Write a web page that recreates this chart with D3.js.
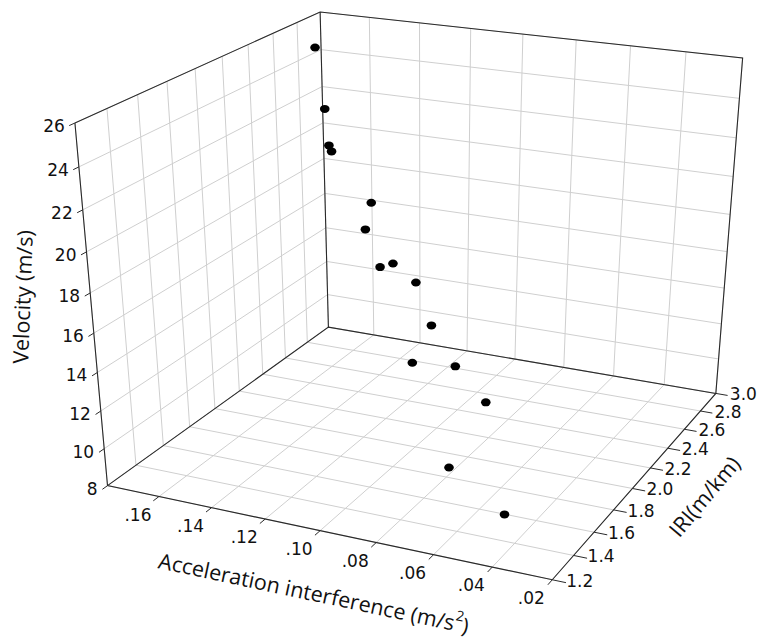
<!DOCTYPE html>
<html><head><meta charset="utf-8">
<script src="https://cdn.jsdelivr.net/npm/d3@7"></script>
<style>body{margin:0;background:#fff}</style>
</head><body>
<svg id="chart" width="758" height="639"></svg>
<script>
// tick values
const accTicks = [0.02, 0.04, 0.06, 0.08, 0.10, 0.12, 0.14, 0.16];
const iriTicks = [1.2, 1.4, 1.6, 1.8, 2.0, 2.2, 2.4, 2.6, 2.8, 3.0];
const velTicks = [8, 10, 12, 14, 16, 18, 20, 22, 24, 26];

// points
const acc = [0.173, 0.165, 0.159, 0.158, 0.138, 0.136, 0.126, 0.121, 0.108, 0.098, 0.101, 0.081, 0.066, 0.071, 0.040];
const iri = [2.8, 2.7, 2.6, 2.6, 2.5, 2.4, 2.3, 2.3, 2.2, 2.1, 2.0, 1.9, 1.8, 1.6, 1.3];
const vel = [24.8, 22.0, 20.5, 20.2, 18.2, 17.2, 15.8, 16.1, 15.8, 14.2, 12.6, 13.4, 12.4, 9.9, 10.1];

const u = d3.scaleLinear().domain([0.02, 0.18]).range([0, 1]);
const v = d3.scaleLinear().domain([1.2, 3.0]).range([0, 1]);
const w = d3.scaleLinear().domain([8, 26]).range([0, 1]);

// where the box corners sit on screen, used to fit the perspective camera
const anchors = [
  [1,0,0,107.7,485.7],[0,0,0,552,580],[0,1,0,716,393],[1,1,0,328.3,327.3],
  [1,0,1,75,122.7],[1,1,1,320,12],[0,1,1,742.7,58.3]
];

function solve(A, b) {
  const n = b.length, M = A.map((r, i) => [...r, b[i]]);
  for (let c = 0; c < n; c++) {
    let p = c;
    for (let r = c + 1; r < n; r++) if (Math.abs(M[r][c]) > Math.abs(M[p][c])) p = r;
    [M[c], M[p]] = [M[p], M[c]];
    for (let r = 0; r < n; r++) {
      if (r === c) continue;
      const f = M[r][c] / M[c][c];
      for (let k = c; k <= n; k++) M[r][k] -= f * M[c][k];
    }
  }
  return M.map((r, i) => r[n] / r[i]);
}

const rows = [], rhs = [];
anchors.forEach(([X, Y, Z, x, y]) => {
  rows.push([X, Y, Z, 1, 0, 0, 0, 0, -x * X, -x * Y, -x * Z]); rhs.push(x);
  rows.push([0, 0, 0, 0, X, Y, Z, 1, -y * X, -y * Y, -y * Z]); rhs.push(y);
});
const AtA = d3.range(11).map(i => d3.range(11).map(j => d3.sum(rows, r => r[i] * r[j])));
const Atb = d3.range(11).map(i => d3.sum(rows, (r, k) => r[i] * rhs[k]));
const P = solve(AtA, Atb);

function proj(a, b, c) {
  const d = P[8] * a + P[9] * b + P[10] * c + 1;
  return [(P[0] * a + P[1] * b + P[2] * c + P[3]) / d, (P[4] * a + P[5] * b + P[6] * c + P[7]) / d];
}
const pt = (a, r, s) => proj(u(a), v(r), w(s));

const svg = d3.select("#chart");
const line = d3.line();

// grid on the three walls
const grid = svg.append("g").attr("stroke", "#cfcfcf").attr("fill", "none");
velTicks.forEach(t => {
  grid.append("path").attr("d", line([pt(0.18, 1.2, t), pt(0.18, 3.0, t), pt(0.02, 3.0, t)]));
});
iriTicks.forEach(t => {
  grid.append("path").attr("d", line([pt(0.18, t, 8), pt(0.18, t, 26)]));
  grid.append("path").attr("d", line([pt(0.18, t, 8), pt(0.02, t, 8)]));
});
accTicks.forEach(t => {
  grid.append("path").attr("d", line([pt(t, 3.0, 8), pt(t, 3.0, 26)]));
  grid.append("path").attr("d", line([pt(t, 1.2, 8), pt(t, 3.0, 8)]));
});

const edges = svg.append("g").attr("stroke", "#2a2a2a").attr("stroke-width", 1.1).attr("fill", "none");
edges.append("path").attr("d", line([pt(0.18,1.2,26), pt(0.18,1.2,8), pt(0.02,1.2,8), pt(0.02,3.0,8), pt(0.02,3.0,26), pt(0.18,3.0,26), pt(0.18,1.2,26)]));
edges.append("path").attr("d", line([pt(0.18,1.2,8), pt(0.18,3.0,8), pt(0.02,3.0,8)]));
edges.append("path").attr("d", line([pt(0.18,3.0,8), pt(0.18,3.0,26)]));

// ticks
const ticks = svg.append("g").attr("stroke", "#2a2a2a").attr("fill", "none");
velTicks.forEach(t => ticks.append("path").attr("d", line([pt(0.18, 1.2, t), pt(0.18, 1.165, t)])));
accTicks.forEach(t => ticks.append("path").attr("d", line([pt(t, 1.2, 8), pt(t, 1.16, 8)])));
iriTicks.forEach(t => ticks.append("path").attr("d", line([pt(0.02, t, 8), pt(0.0155, t, 8)])));

const labels = svg.append("g").attr("font-family", "DejaVu Sans").attr("font-size", 17).attr("fill", "#111");
velTicks.forEach(t => {
  const [x, y] = pt(0.18, 1.2, t);
  labels.append("text").attr("x", x - 10).attr("y", y + 3).attr("text-anchor", "end").attr("dominant-baseline", "central").text(t);
});
accTicks.forEach(t => {
  const [x, y] = pt(t, 1.2, 8);
  labels.append("text").attr("x", x - 21).attr("y", y + 18).attr("text-anchor", "middle").attr("dominant-baseline", "central").text(d3.format(".2f")(t).replace(/^0/, ""));
});
iriTicks.forEach(t => {
  const [x, y] = pt(0.02, t, 8);
  labels.append("text").attr("x", x + 14).attr("y", y + 1).attr("text-anchor", "start").attr("dominant-baseline", "central").text(d3.format(".1f")(t));
});

// axis titles
const titles = svg.append("g").attr("font-family", "Open Sans").attr("font-size", 21.5).attr("fill", "#111").attr("text-anchor", "middle").attr("dominant-baseline", "central");
titles.append("text").attr("transform", "translate(22,297) rotate(-88)").text("Velocity (m/s)");
titles.append("text").attr("transform", "translate(704,496) rotate(-50)").text("IRI(m/km)");
const at = titles.append("text").attr("transform", "translate(314,592) rotate(12)");
at.append("tspan").text("Acceleration interference (m/s");
at.append("tspan").attr("font-size", 14).attr("dy", -8).text("2");
at.append("tspan").attr("dy", 8).text(")");

// points
svg.append("g").selectAll("ellipse").data(d3.range(acc.length)).join("ellipse")
  .attr("cx", i => pt(acc[i], iri[i], vel[i])[0])
  .attr("cy", i => pt(acc[i], iri[i], vel[i])[1])
  .attr("rx", 4.8).attr("ry", 4).attr("fill", "#000");
</script>
</body></html>
